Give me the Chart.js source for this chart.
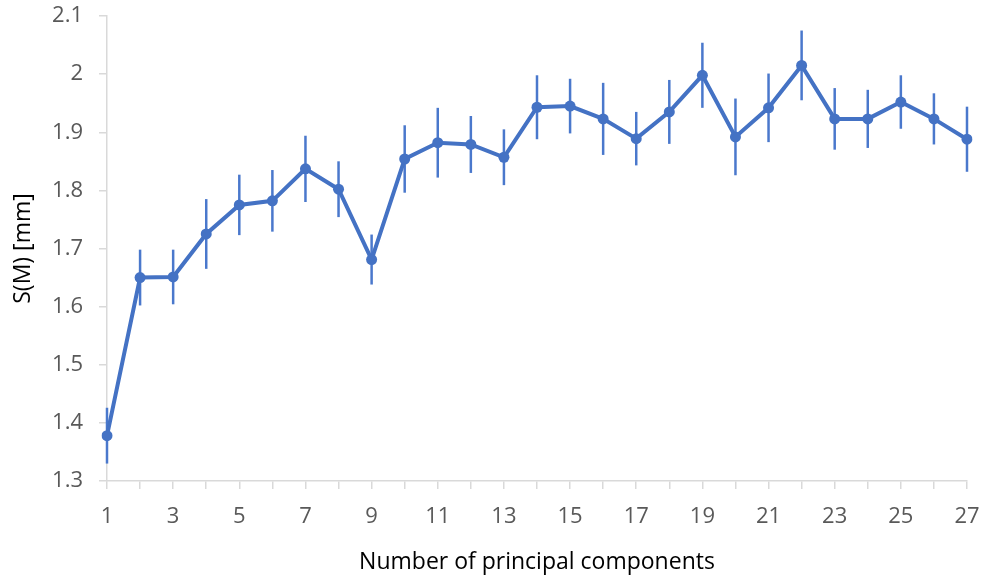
<!DOCTYPE html>
<html>
<head>
<meta charset="utf-8">
<script src="https://cdn.jsdelivr.net/npm/chart.js@4"></script>
<style>
  html, body { margin: 0; padding: 0; background: #fff; }
  #wrap { width: 984px; height: 576px; }
</style>
</head>
<body>
<div id="wrap"><canvas id="c" width="984" height="576"></canvas></div>
<script>
// Number of principal components (x categories)
const components = [1,2,3,4,5,6,7,8,9,10,11,12,13,14,15,16,17,18,19,20,21,22,23,24,25,26,27];
// Mean S(M) in mm for each component count
const meanSM = [1.378,1.650,1.651,1.725,1.775,1.782,1.837,1.802,1.681,1.854,1.882,1.879,1.857,1.943,1.945,1.923,1.889,1.935,1.998,1.892,1.942,2.015,1.923,1.923,1.952,1.923,1.888];
// Half-length of the error bar (± mm)
const errSM = [0.048,0.048,0.047,0.060,0.052,0.053,0.057,0.048,0.043,0.058,0.060,0.049,0.048,0.055,0.047,0.062,0.046,0.055,0.056,0.066,0.059,0.060,0.053,0.050,0.046,0.044,0.056];

const BLUE = '#4472C4';
const ERR_BLUE = '#4a78cc';
const TICK_COLOR = '#595959';
const AXIS_COLOR = '#d9d9d9';
const FONT = '"Open Sans", Lato, sans-serif';

// Vertical error bars drawn through the y scale, under the line and markers
const errorBars = {
  id: 'errorBars',
  beforeDatasetsDraw(chart) {
    const { ctx, scales: { x, y } } = chart;
    ctx.save();
    ctx.strokeStyle = ERR_BLUE;
    ctx.lineWidth = 2.5;
    meanSM.forEach((m, i) => {
      const px = x.getPixelForValue(i);
      ctx.beginPath();
      ctx.moveTo(px, y.getPixelForValue(m + errSM[i]));
      ctx.lineTo(px, y.getPixelForValue(m - errSM[i]));
      ctx.stroke();
    });
    ctx.restore();
  }
};

new Chart(document.getElementById('c'), {
  type: 'line',
  data: {
    labels: components.map(String),
    datasets: [{
      data: meanSM,
      borderColor: BLUE,
      backgroundColor: BLUE,
      borderWidth: 4,
      pointRadius: 5.5,
      pointBackgroundColor: BLUE,
      pointBorderWidth: 0,
      tension: 0,
      fill: false
    }]
  },
  options: {
    responsive: false,
    animation: false,
    events: [],
    layout: { padding: { top: 16, right: 17, left: 0, bottom: 0 } },
    plugins: { legend: { display: false }, tooltip: { enabled: false } },
    scales: {
      x: {
        type: 'category',
        offset: false,
        afterFit(scale) {
          scale.height = 95;
          scale.paddingLeft = 0;
          scale.paddingRight = 0;
        },
        grid: { display: true, drawOnChartArea: false, drawTicks: true, tickLength: 8, color: AXIS_COLOR, lineWidth: 1.5 },
        border: { display: true, color: AXIS_COLOR, width: 1.5 },
        ticks: {
          autoSkip: false,
          maxRotation: 0,
          padding: 15,
          color: TICK_COLOR,
          font: { family: FONT, size: 22 },
          callback(v, i) { return i % 2 === 0 ? components[i] : ''; }
        },
        title: {
          display: true,
          text: 'Number of principal components',
          color: '#000',
          font: { family: FONT, size: 23 },
          padding: { top: 0, bottom: 0 }
        }
      },
      y: {
        min: 1.3,
        max: 2.1,
        afterFit(scale) {
          scale.width = 107;
          scale.paddingTop = 0;
          scale.paddingBottom = 0;
        },
        grid: { display: true, drawOnChartArea: false, drawTicks: true, tickLength: 8, color: AXIS_COLOR, lineWidth: 1.5 },
        border: { display: true, color: AXIS_COLOR, width: 1.5 },
        ticks: {
          stepSize: 0.1,
          padding: 16,
          color: TICK_COLOR,
          font: { family: FONT, size: 22 },
          callback(v) { return String(Number(v.toFixed(1))); }
        },
        title: {
          display: true,
          text: 'S(M) [mm]',
          color: '#000',
          font: { family: FONT, size: 23 },
          padding: { top: 10, bottom: 0 }
        }
      }
    }
  },
  plugins: [errorBars]
});
</script>
</body>
</html>
